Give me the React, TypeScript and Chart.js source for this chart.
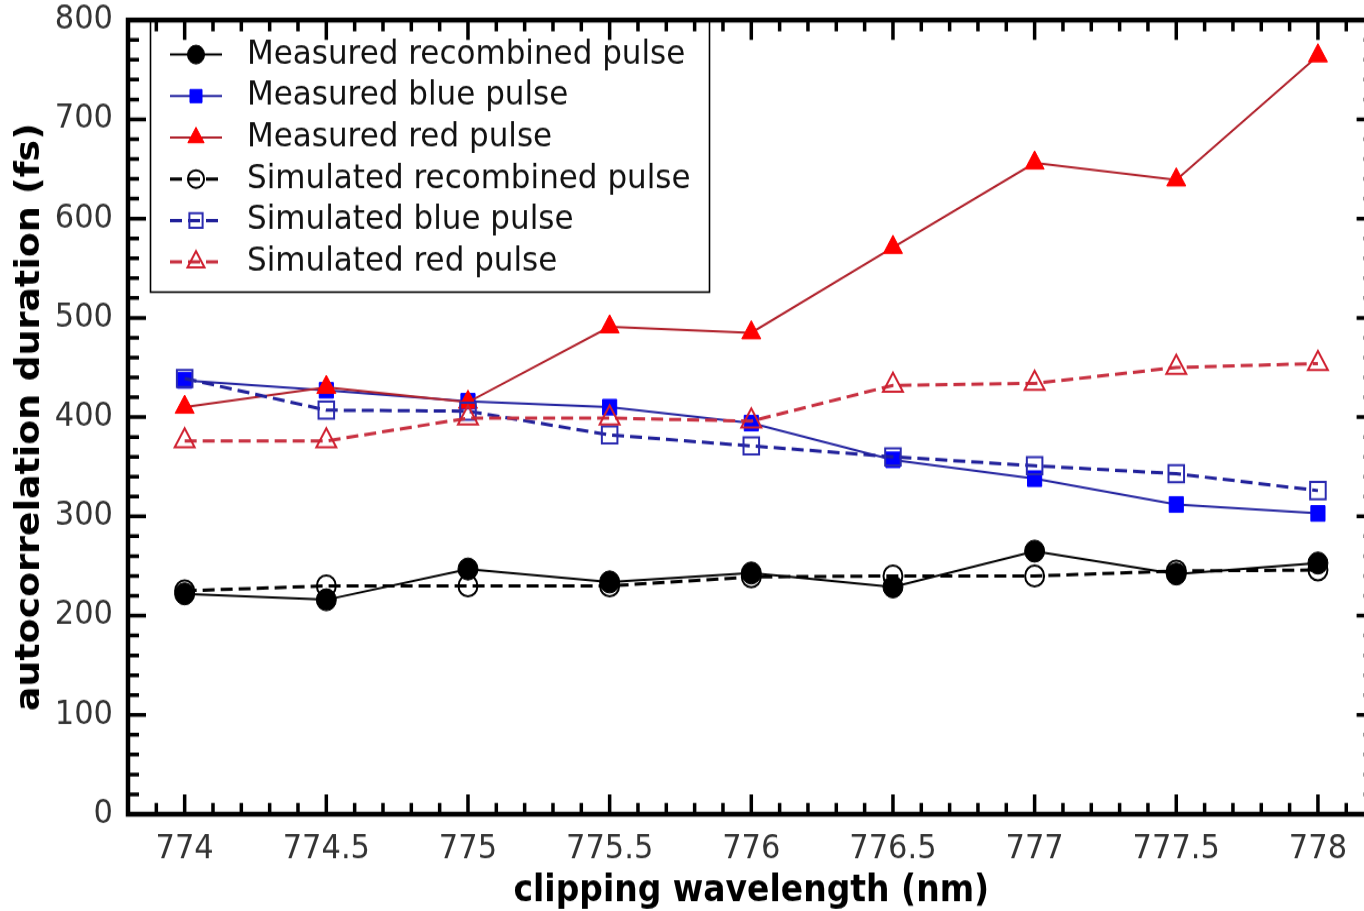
import React, { useEffect, useRef } from "react";
import { Chart, registerables } from "chart.js";

Chart.register(...registerables);

// ---- data ----
const WAVELENGTHS = [774, 774.5, 775, 775.5, 776, 776.5, 777, 777.5, 778];
const MEASURED_RECOMBINED = [222, 216, 247, 234, 243, 229, 265, 242, 253];
const MEASURED_BLUE = [437, 427, 416, 410, 394, 357, 338, 312, 303];
const MEASURED_RED = [410, 430, 415, 491, 485, 571, 656, 639, 764];
const SIMULATED_RECOMBINED = [225, 230, 230, 230, 239, 240, 240, 245, 246];
const SIMULATED_BLUE = [439, 407, 406, 382, 371, 360, 351, 343, 326];
const SIMULATED_RED = [376, 376, 399, 399, 396, 432, 434, 450, 454];

const SERIES_LABELS = [
  "Measured recombined pulse",
  "Measured blue pulse",
  "Measured red pulse",
  "Simulated recombined pulse",
  "Simulated blue pulse",
  "Simulated red pulse",
];

const X_TICKS = [774, 774.5, 775, 775.5, 776, 776.5, 777, 777.5, 778];
const X_TICK_LABELS = ["774", "774.5", "775", "775.5", "776", "776.5", "777", "777.5", "778"];
const Y_TICKS = [0, 100, 200, 300, 400, 500, 600, 700, 800];
const X_MIN = 773.8;
const X_MAX = 778.2;
const Y_MIN = 0;
const Y_MAX = 800;
const X_MINOR_STEP = 0.1;
const Y_MINOR_STEP = 20;

// ---- canvas geometry ----
const CW = 1380;
const CH = 828;
const VIEW_W = 1364;
const VIEW_H = 911;
const FONT = "'DejaVu Sans', 'Liberation Sans', sans-serif";

const pts = (ys: number[]) => WAVELENGTHS.map((x, i) => ({ x, y: ys[i] }));

function drawMarker(ctx: CanvasRenderingContext2D, style: string, x: number, y: number, r: number, fill: string | null, stroke: string, lw: number) {
  ctx.beginPath();
  if (style === "circle") {
    ctx.arc(x, y, r, 0, Math.PI * 2);
  } else if (style === "rect") {
    const s = r * Math.SQRT1_2;
    ctx.rect(x - s, y - s, 2 * s, 2 * s);
  } else {
    let a = 0;
    ctx.moveTo(x + Math.sin(a) * r, y - Math.cos(a) * r);
    a += (2 * Math.PI) / 3;
    ctx.lineTo(x + Math.sin(a) * r, y - Math.cos(a) * r);
    a += (2 * Math.PI) / 3;
    ctx.lineTo(x + Math.sin(a) * r, y - Math.cos(a) * r);
    ctx.closePath();
  }
  if (fill) {
    ctx.fillStyle = fill;
    ctx.fill();
  }
  ctx.lineWidth = lw;
  ctx.strokeStyle = stroke;
  ctx.stroke();
}

const legendPlugin = {
  id: "mplLegend",
  afterDatasetsDraw(chart: any) {
    const ctx: CanvasRenderingContext2D = chart.ctx;
    const box = { l: 150.5, t: 18.6, r: 709.5, b: 265.5 };
    ctx.save();
    ctx.fillStyle = "#ffffff";
    ctx.fillRect(box.l, box.t, box.r - box.l, box.b - box.t);
    ctx.strokeStyle = "#000";
    ctx.lineWidth = 1.6;
    ctx.strokeRect(box.l, box.t, box.r - box.l, box.b - box.t);
    const rowY0 = 49.6;
    const rowStep = 37.7;
    chart.data.datasets.forEach((ds: any, i: number) => {
      const y = rowY0 + i * rowStep;
      ctx.save();
      ctx.strokeStyle = ds.borderColor;
      ctx.lineWidth = ds.borderWidth;
      ctx.setLineDash(ds.borderDash || []);
      ctx.beginPath();
      ctx.moveTo(170, y);
      ctx.lineTo(222, y);
      ctx.stroke();
      ctx.restore();
      const filled = ds.pointBackgroundColor !== "rgba(0,0,0,0)";
      drawMarker(ctx, ds.pointStyle, 196, y, ds.pointRadius * 0.85, filled ? ds.pointBackgroundColor : null, ds.pointBorderColor, ds.pointBorderWidth);
      ctx.fillStyle = "#111";
      ctx.font = `31px ${FONT}`;
      ctx.textAlign = "left";
      ctx.textBaseline = "middle";
      ctx.fillText(ds.label, 247, y);
    });
    ctx.restore();
  },
};

const framePlugin = {
  id: "mplFrame",
  afterDraw(chart: any) {
    const ctx: CanvasRenderingContext2D = chart.ctx;
    const xs = chart.scales.x;
    const ys = chart.scales.y;
    const { left, right, top, bottom } = chart.chartArea;
    ctx.save();
    ctx.strokeStyle = "#000";
    ctx.lineCap = "butt";
    ctx.lineWidth = 3.5;
    const nx = Math.round((X_MAX - X_MIN) / X_MINOR_STEP);
    for (let k = 0; k <= nx; k++) {
      const v = X_MIN + k * X_MINOR_STEP;
      const major = X_TICKS.some((t) => Math.abs(t - v) < 1e-6);
      const len = major ? 18 : 10.3;
      const px = xs.getPixelForValue(v);
      ctx.beginPath();
      ctx.moveTo(px, bottom);
      ctx.lineTo(px, bottom - len);
      ctx.moveTo(px, top);
      ctx.lineTo(px, top + len);
      ctx.stroke();
    }
    const ny = Math.round((Y_MAX - Y_MIN) / Y_MINOR_STEP);
    for (let k = 0; k <= ny; k++) {
      const v = Y_MIN + k * Y_MINOR_STEP;
      const major = Y_TICKS.includes(v);
      const len = major ? 18 : 11;
      const py = ys.getPixelForValue(v);
      ctx.beginPath();
      ctx.moveTo(left, py);
      ctx.lineTo(left + len, py);
      ctx.moveTo(right, py);
      ctx.lineTo(right - len, py);
      ctx.stroke();
    }
    ctx.lineWidth = 4.5;
    ctx.strokeRect(left, top, right - left, bottom - top);
    ctx.restore();
  },
};

const zeroPadding = (s: any) => {
  s.paddingLeft = 0;
  s.paddingRight = 0;
  s.paddingTop = 0;
  s.paddingBottom = 0;
};

export default function App() {
  const ref = useRef<HTMLCanvasElement>(null);
  useEffect(() => {
    document.body.style.margin = "0";
    const canvas = ref.current;
    if (!canvas) return;
    const mk = (
      label: string,
      ys: number[],
      lineColor: string,
      dash: number[],
      width: number,
      style: string,
      radius: number,
      fill: string,
      stroke: string,
      bw: number
    ) => ({
      label,
      data: pts(ys),
      borderColor: lineColor,
      borderWidth: width,
      borderDash: dash,
      pointStyle: style,
      pointRadius: radius,
      pointBackgroundColor: fill,
      pointBorderColor: stroke,
      pointBorderWidth: bw,
      pointHoverRadius: radius,
      fill: false,
      tension: 0,
      clip: false,
    });
    const datasets: any[] = [
      mk(SERIES_LABELS[0], MEASURED_RECOMBINED, "#000000", [], 2, "circle", 10, "#000000", "#000000", 1),
      mk(SERIES_LABELS[1], MEASURED_BLUE, "#2424a0", [], 2, "rect", 10, "#0000ff", "#0000ff", 1),
      mk(SERIES_LABELS[2], MEASURED_RED, "#b0202a", [], 2, "triangle", 11, "#ff0000", "#ff0000", 1),
      mk(SERIES_LABELS[3], SIMULATED_RECOMBINED, "#000000", [12, 6], 3, "circle", 9.5, "rgba(0,0,0,0)", "#000000", 2),
      mk(SERIES_LABELS[4], SIMULATED_BLUE, "#20209a", [12, 6], 3, "rect", 11, "rgba(0,0,0,0)", "#2a2ab0", 2),
      mk(SERIES_LABELS[5], SIMULATED_RED, "#c83040", [12, 6], 3, "triangle", 11.5, "rgba(0,0,0,0)", "#d02030", 2),
    ];
    datasets.forEach((d, i) => (d.order = datasets.length - i));

    const chart = new Chart(canvas, {
      type: "line",
      data: { datasets },
      options: {
        responsive: false,
        animation: false,
        devicePixelRatio: 1,
        layout: { autoPadding: false, padding: { left: 0, top: 18.2, right: CW - 1374.6, bottom: 0 } },
        plugins: { legend: { display: false }, tooltip: { enabled: false } },
        scales: {
          x: {
            type: "linear",
            min: X_MIN,
            max: X_MAX,
            afterBuildTicks: (s: any) => {
              s.ticks = X_TICKS.map((v) => ({ value: v }));
            },
            afterFit: (s: any) => {
              s.height = CH - 740;
              zeroPadding(s);
            },
            grid: { display: false, drawTicks: false },
            border: { display: false },
            ticks: {
              padding: 17,
              autoSkip: false,
              maxRotation: 0,
              color: "#333333",
              font: { family: FONT, size: 30.5, lineHeight: 1 },
              callback: (_v: any, i: number) => X_TICK_LABELS[i],
            },
            title: {
              display: true,
              text: "clipping wavelength (nm)",
              color: "#000",
              font: { family: FONT, size: 33, weight: "bold", lineHeight: 1 },
              padding: { top: 0, bottom: 1.5 },
            },
          },
          y: {
            type: "linear",
            min: Y_MIN,
            max: Y_MAX,
            afterBuildTicks: (s: any) => {
              s.ticks = Y_TICKS.map((v) => ({ value: v }));
            },
            afterFit: (s: any) => {
              s.width = 128;
              zeroPadding(s);
            },
            grid: { display: false, drawTicks: false },
            border: { display: false },
            ticks: {
              padding: 15,
              color: "#333333",
              font: { family: FONT, size: 30.5, lineHeight: 1 },
              callback: (v: any) => String(v),
            },
            title: {
              display: true,
              text: "autocorrelation duration (fs)",
              color: "#000",
              font: { family: FONT, size: 33, weight: "bold", lineHeight: 1 },
              padding: { top: 14, bottom: 0 },
            },
          },
        },
      } as any,
      plugins: [legendPlugin, framePlugin],
    });
    return () => chart.destroy();
  }, []);

  return (
    <div style={{ width: VIEW_W, height: VIEW_H, overflow: "hidden", background: "#fff" }}>
      <canvas
        ref={ref}
        width={CW}
        height={CH}
        style={{ width: CW + "px", height: VIEW_H + "px", display: "block" }}
      />
    </div>
  );
}
